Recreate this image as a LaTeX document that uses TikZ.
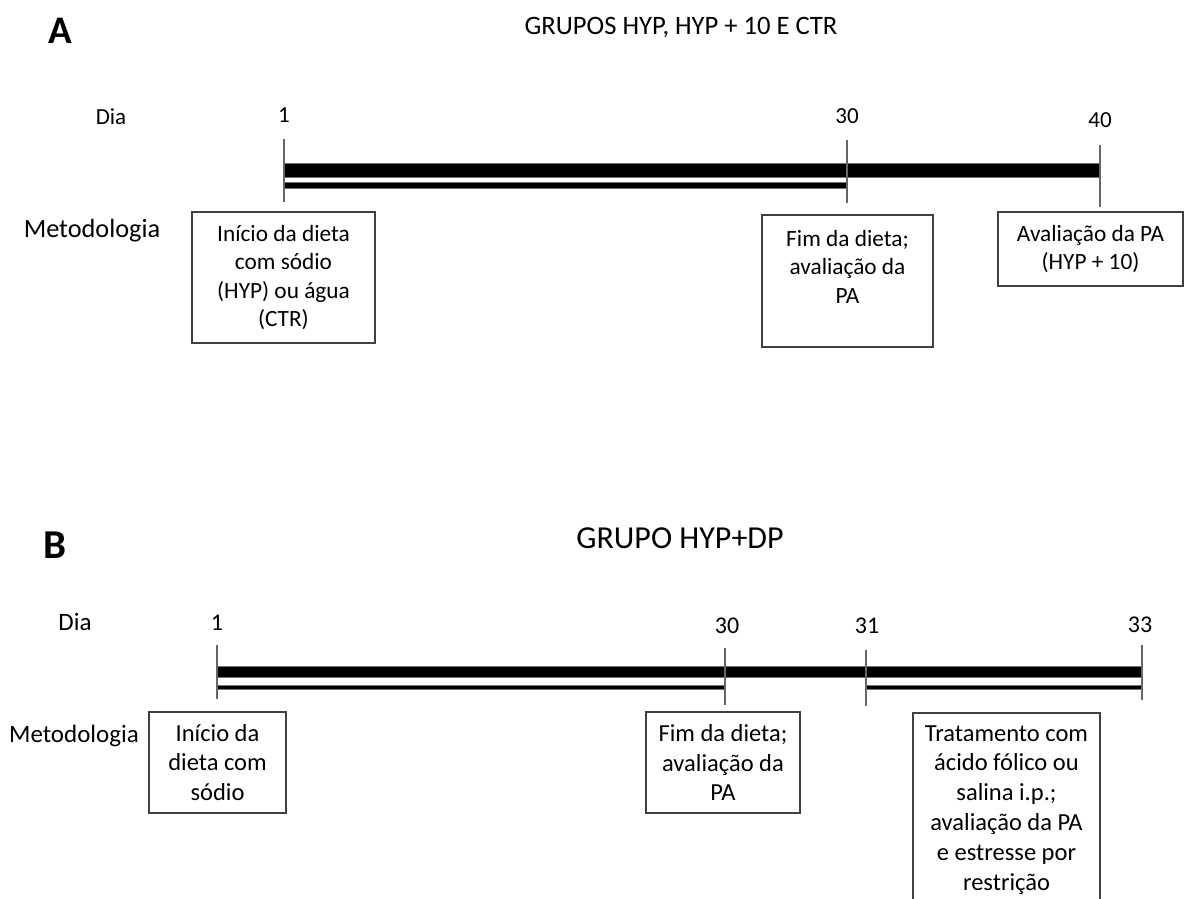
\documentclass[tikz,border=0pt]{standalone}
\usepackage{fontspec}
\setmainfont{Carlito}
\begin{document}
\begin{tikzpicture}[x=1pt,y=-1pt,
  lbl/.style={inner sep=0pt, anchor=base, text=black},
  tickline/.style={draw=black!60, line width=1.3pt},
  barfill/.style={fill=black, draw=black!55, line width=0.6pt},
  boxnode/.style={draw=black!75, line width=1.6pt, align=center, inner sep=0pt, text=black},
  fa/.style={font=\fontsize{23.3}{28.5}\selectfont},
  fb/.style={font=\fontsize{24.5}{29.8}\selectfont}]
\useasboundingbox (0,0) rectangle (1189,899);
\clip (0,0) rectangle (1189,899);

% ---------------- Panel A ----------------
\node[lbl, font=\fontsize{39}{43}\bfseries] (A) at (60,44) {A};
\node[lbl, font=\fontsize{26.6}{30}\selectfont] (titA) at (681,35) {GRUPOS HYP, HYP + 10 E CTR};
\node[lbl, font=\fontsize{23}{27}\selectfont] (diaA) at (111,124) {Dia};
\node[lbl, font=\fontsize{26.3}{30}\selectfont] (metA) at (92,237) {Metodologia};
\node[lbl, font=\fontsize{23}{27}\selectfont] (nA1) at (284,122) {1};
\node[lbl, font=\fontsize{23}{27}\selectfont] (nA30) at (847,123) {30};
\node[lbl, font=\fontsize{23}{27}\selectfont] (nA40) at (1100,128) {40};

\coordinate (tA1a) at (284,139);  \coordinate (tA1b) at (284,202);
\coordinate (tA30a) at (847,140); \coordinate (tA30b) at (847,203);
\coordinate (tA40a) at (1100,145);\coordinate (tA40b) at (1100,207);

\draw[barfill] (284,163) rectangle (1100,177);
\draw[barfill] (284,182) rectangle (847,188);

\draw[tickline] (tA1a) -- (tA1b);
\draw[tickline] (tA30a) -- (tA30b);
\draw[tickline] (tA40a) -- (tA40b);

\node[boxnode, fa, minimum width=183pt, minimum height=131pt] (boxA1) at (283.5,277.5)
  {Início da dieta\\com sódio\\(HYP) ou água\\(CTR)};
\node[boxnode, fa, minimum width=171pt, minimum height=132pt] (boxA2) at (847.5,281)
  {Fim da dieta;\\avaliação da\\PA\\\mbox{}};
\node[boxnode, fa, minimum width=185pt, minimum height=74pt] (boxA3) at (1090.5,249)
  {Avaliação da PA\\(HYP + 10)};

% ---------------- Panel B ----------------
\node[lbl, font=\fontsize{41}{45}\bfseries] (B) at (55,558) {B};
\node[lbl, font=\fontsize{32}{36}\selectfont] (titB) at (680,548) {GRUPO HYP+DP};
\node[lbl, font=\fontsize{25}{29}\selectfont] (diaB) at (75,630) {Dia};
\node[lbl, font=\fontsize{25}{29}\selectfont] (metB) at (74,742) {Metodologia};
\node[lbl, font=\fontsize{24}{28}\selectfont] (nB1) at (217,630) {1};
\node[lbl, font=\fontsize{24}{28}\selectfont] (nB30) at (727,633) {30};
\node[lbl, font=\fontsize{24}{28}\selectfont] (nB31) at (867,633) {31};
\node[lbl, font=\fontsize{24}{28}\selectfont] (nB33) at (1140,632) {33};

\coordinate (tB1a) at (217,645);  \coordinate (tB1b) at (217,699);
\coordinate (tB30a) at (725,648); \coordinate (tB30b) at (725,705);
\coordinate (tB31a) at (866,650); \coordinate (tB31b) at (866,706);
\coordinate (tB33a) at (1142,645);\coordinate (tB33b) at (1142,700);

\draw[barfill] (217,666) rectangle (1142,677);
\draw[barfill] (217,685) rectangle (725,689);
\draw[barfill] (866,685) rectangle (1142,689);

\draw[tickline] (tB1a) -- (tB1b);
\draw[tickline] (tB30a) -- (tB30b);
\draw[tickline] (tB31a) -- (tB31b);
\draw[tickline] (tB33a) -- (tB33b);

\node[boxnode, fb, minimum width=137pt, minimum height=101pt] (boxB1) at (217.5,762.5)
  {Início da\\dieta com\\sódio};
\node[boxnode, fb, minimum width=154pt, minimum height=101pt] (boxB2) at (723,762.5)
  {Fim da dieta;\\avaliação da\\PA};
\node[boxnode, fb, minimum width=187pt, minimum height=194pt, anchor=north] (boxB3) at (1006.5,712)
  {Tratamento com\\ácido fólico ou\\salina i.p.;\\avaliação da PA\\e estresse por\\restrição};
\end{tikzpicture}
\end{document}
